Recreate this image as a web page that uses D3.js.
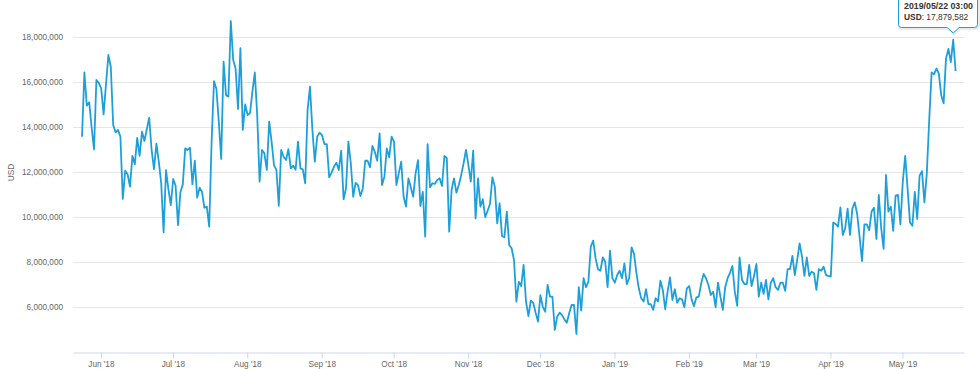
<!DOCTYPE html>
<html>
<head>
<meta charset="utf-8">
<script src="https://cdn.jsdelivr.net/npm/d3@7/dist/d3.min.js"></script>
<style>
  html, body { margin: 0; padding: 0; background: #fff; }
  svg { display: block; font-family: "Liberation Sans", Arial, sans-serif; }
</style>
</head>
<body>
<svg id="chart" width="980" height="369"></svg>
<script>
// ---- DATA ----
// Daily values (USD, millions) starting 2018-05-24 03:00, one per day
const startDate = "2018-05-24T03:00:00Z";
const valuesMillions = [
13.57,16.43,14.95,15.10,14.0,13.0,16.09,15.95,15.72,14.56,15.9,17.2,16.68,14.09,13.76,13.87,13.57,10.8,12.06,11.9,
11.35,12.72,12.34,13.52,12.72,13.79,13.38,13.9,14.41,12.98,12.13,13.26,12.46,11.5,9.32,12.08,11.24,10.53,11.69,11.39,
9.64,11.1,11.45,13.05,12.98,13.08,11.45,12.5,10.86,11.3,11.12,10.41,10.46,9.57,13.35,16.04,15.69,14.24,12.58,16.9,
15.42,15.35,18.71,16.98,16.6,14.8,17.5,13.87,15.0,14.53,14.61,15.57,16.43,14.53,11.57,12.98,12.83,12.09,14.24,13.35,
12.31,12.09,10.5,12.98,12.68,12.53,13.02,12.16,12.28,12.1,13.35,12.16,12.12,11.5,14.76,15.79,13.87,12.46,13.57,13.75,
13.64,13.24,13.24,11.76,11.97,12.24,12.41,12.09,12.95,10.79,11.27,13.35,12.39,10.9,11.52,11.42,10.93,11.27,12.5,12.5,
12.21,13.16,12.9,12.5,13.72,11.42,11.79,13.05,12.65,13.57,13.35,11.42,11.94,12.46,10.9,10.46,11.72,11.32,10.9,11.94,
12.53,10.49,11.12,9.13,13.24,11.32,11.5,11.47,11.64,11.72,11.38,12.71,12.61,9.35,11.2,11.72,11.08,11.42,11.87,12.39,
12.98,12.31,11.57,12.95,9.94,11.72,10.46,10.79,9.99,10.28,10.58,11.76,11.35,9.72,10.61,9.16,9.1,10.24,8.76,8.61,
8.09,6.24,7.12,6.93,7.87,6.24,5.6,6.28,6.19,5.75,5.35,6.53,6.01,5.79,6.98,6.46,6.46,4.98,5.57,5.75,
5.64,5.45,5.3,5.72,6.09,6.09,4.8,6.88,5.84,7.28,6.88,7.12,8.68,8.95,8.16,7.68,7.61,8.2,8.01,6.88,
8.5,7.28,7.08,7.42,7.61,7.28,7.94,7.02,7.28,8.65,8.36,7.52,6.83,6.39,6.24,6.79,6.13,6.13,5.87,6.39,
6.24,7.17,6.76,5.9,6.68,7.32,6.31,6.79,6.19,6.39,6.34,5.99,6.83,6.93,6.34,6.04,6.43,6.46,7.05,7.47,
7.28,6.98,6.53,6.68,5.99,7.08,6.46,5.87,6.88,7.28,7.52,7.82,6.68,6.05,8.2,7.2,7.02,7.02,7.87,6.93,
7.38,7.91,6.46,7.08,6.58,7.2,6.34,7.08,7.28,6.88,6.76,7.08,7.08,6.72,7.68,7.68,8.27,7.42,8.09,8.83,
8.24,7.38,8.2,7.38,7.57,7.5,6.76,7.68,7.61,7.79,7.42,7.38,7.35,9.75,9.69,9.57,10.43,9.2,9.5,10.37,
9.2,10.38,10.65,10.12,9.12,8.04,9.67,9.67,9.42,10.24,10.41,9.02,10.98,9.5,8.58,11.87,10.24,10.46,9.38,10.95,
10.98,9.67,11.57,12.72,11.24,9.76,9.61,11.12,9.91,11.84,12.04,10.65,11.94,14.3,16.43,16.34,16.6,16.38,15.42,15.05,
17.05,17.47,16.88,17.879582,16.49
];
const yTicks = [6000000, 8000000, 10000000, 12000000, 14000000, 16000000, 18000000];
const xTickMonths = ["2018-06-01","2018-07-01","2018-08-01","2018-09-01","2018-10-01","2018-11-01",
                     "2018-12-01","2019-01-01","2019-02-01","2019-03-01","2019-04-01","2019-05-01"];
const seriesName = "USD";
const hoverIndex = 363;

// ---- BUILD ----
const DAY = 86400000;
const t0 = new Date(startDate).getTime();
const data = valuesMillions.map((v, i) => ({ date: new Date(t0 + i * DAY), value: v * 1e6 }));

const svg = d3.select("#chart");
const plotL = 73, plotR = 964, plotT = 37, plotB = 352;
const color = "#1da0da";

const x = d3.scaleUtc()
  .domain([new Date(t0 - 3.75 * DAY), new Date(t0 + 367.5 * DAY)])
  .range([plotL, plotR]);
const y = d3.scaleLinear().domain([4000000, 18000000]).range([plotB, plotT]);

// grid lines
svg.append("g").selectAll("line").data(yTicks).join("line")
  .attr("x1", plotL).attr("x2", plotR)
  .attr("y1", d => Math.round(y(d)) + 0.5).attr("y2", d => Math.round(y(d)) + 0.5)
  .attr("stroke", "#e6e6e6").attr("stroke-width", 1);

// y labels
const yAxis = d3.axisLeft(y).tickValues(yTicks).tickFormat(d3.format(",")).tickSize(0).tickPadding(0);
const gy = svg.append("g").attr("transform", `translate(${plotL - 10},0)`).call(yAxis);
gy.select(".domain").remove();
gy.selectAll("text").attr("fill", "#666").style("font-size", "8.2px").attr("dy", "0.34em");

// y title
svg.append("text")
  .attr("transform", `translate(14,${(plotT + plotB) / 2 - 22}) rotate(-90)`)
  .attr("text-anchor", "middle")
  .attr("fill", "#666").style("font-size", "8.4px")
  .text(seriesName);

// x axis
const xAxis = d3.axisBottom(x)
  .tickValues(xTickMonths.map(s => new Date(s + "T00:00:00Z")))
  .tickFormat(d3.utcFormat("%b '%y"))
  .tickSize(6).tickSizeOuter(0).tickPadding(3);
const gx = svg.append("g").attr("transform", `translate(0,${plotB + 0.5})`).call(xAxis);
gx.select(".domain").attr("stroke", "#ccd6eb");
gx.selectAll(".tick line").attr("stroke", "#ccd6eb");
gx.selectAll("text").attr("fill", "#666").style("font-size", "8.2px");

// line
const line = d3.line().x(d => x(d.date)).y(d => y(d.value));
svg.append("path").datum(data)
  .attr("fill", "none").attr("stroke", color)
  .attr("stroke-width", 1.8).attr("stroke-linejoin", "round")
  .attr("d", line);

// tooltip
const hp = data[hoverIndex];
const px = x(hp.date), py = y(hp.value);
const bx1 = 898.5, bx2 = 977.5, by1 = -6, by2 = 27.5, r = 3;
const tipY = by2 + 5.5, cx = px;
const path = `M${bx1 + r},${by1} L${bx2 - r},${by1} Q${bx2},${by1} ${bx2},${by1 + r} L${bx2},${by2 - r} Q${bx2},${by2} ${bx2 - r},${by2}
  L${cx + 6},${by2} L${cx},${tipY} L${cx - 6},${by2} L${bx1 + r},${by2} Q${bx1},${by2} ${bx1},${by2 - r} L${bx1},${by1 + r} Q${bx1},${by1} ${bx1 + r},${by1} Z`;
const tt = svg.append("g");
tt.append("path").attr("d", path).attr("transform", "translate(1,1)")
  .attr("fill", "none").attr("stroke", "rgba(0,0,0,0.08)").attr("stroke-width", 3);
tt.append("path").attr("d", path)
  .attr("fill", "rgba(255,255,255,0.96)").attr("stroke", color).attr("stroke-width", 1);
const fmtDate = d3.utcFormat("%Y/%m/%d %H:%M");
tt.append("text").attr("x", 904).attr("y", 8.5)
  .attr("fill", "#333").style("font-size", "8.8px").style("font-weight", "bold")
  .text(fmtDate(hp.date));
const t2 = tt.append("text").attr("x", 904).attr("y", 20.3).attr("fill", "#333").style("font-size", "8.4px");
t2.append("tspan").style("font-weight", "bold").text(seriesName);
t2.append("tspan").text(": " + d3.format(",")(Math.round(hp.value)));
</script>
</body>
</html>
